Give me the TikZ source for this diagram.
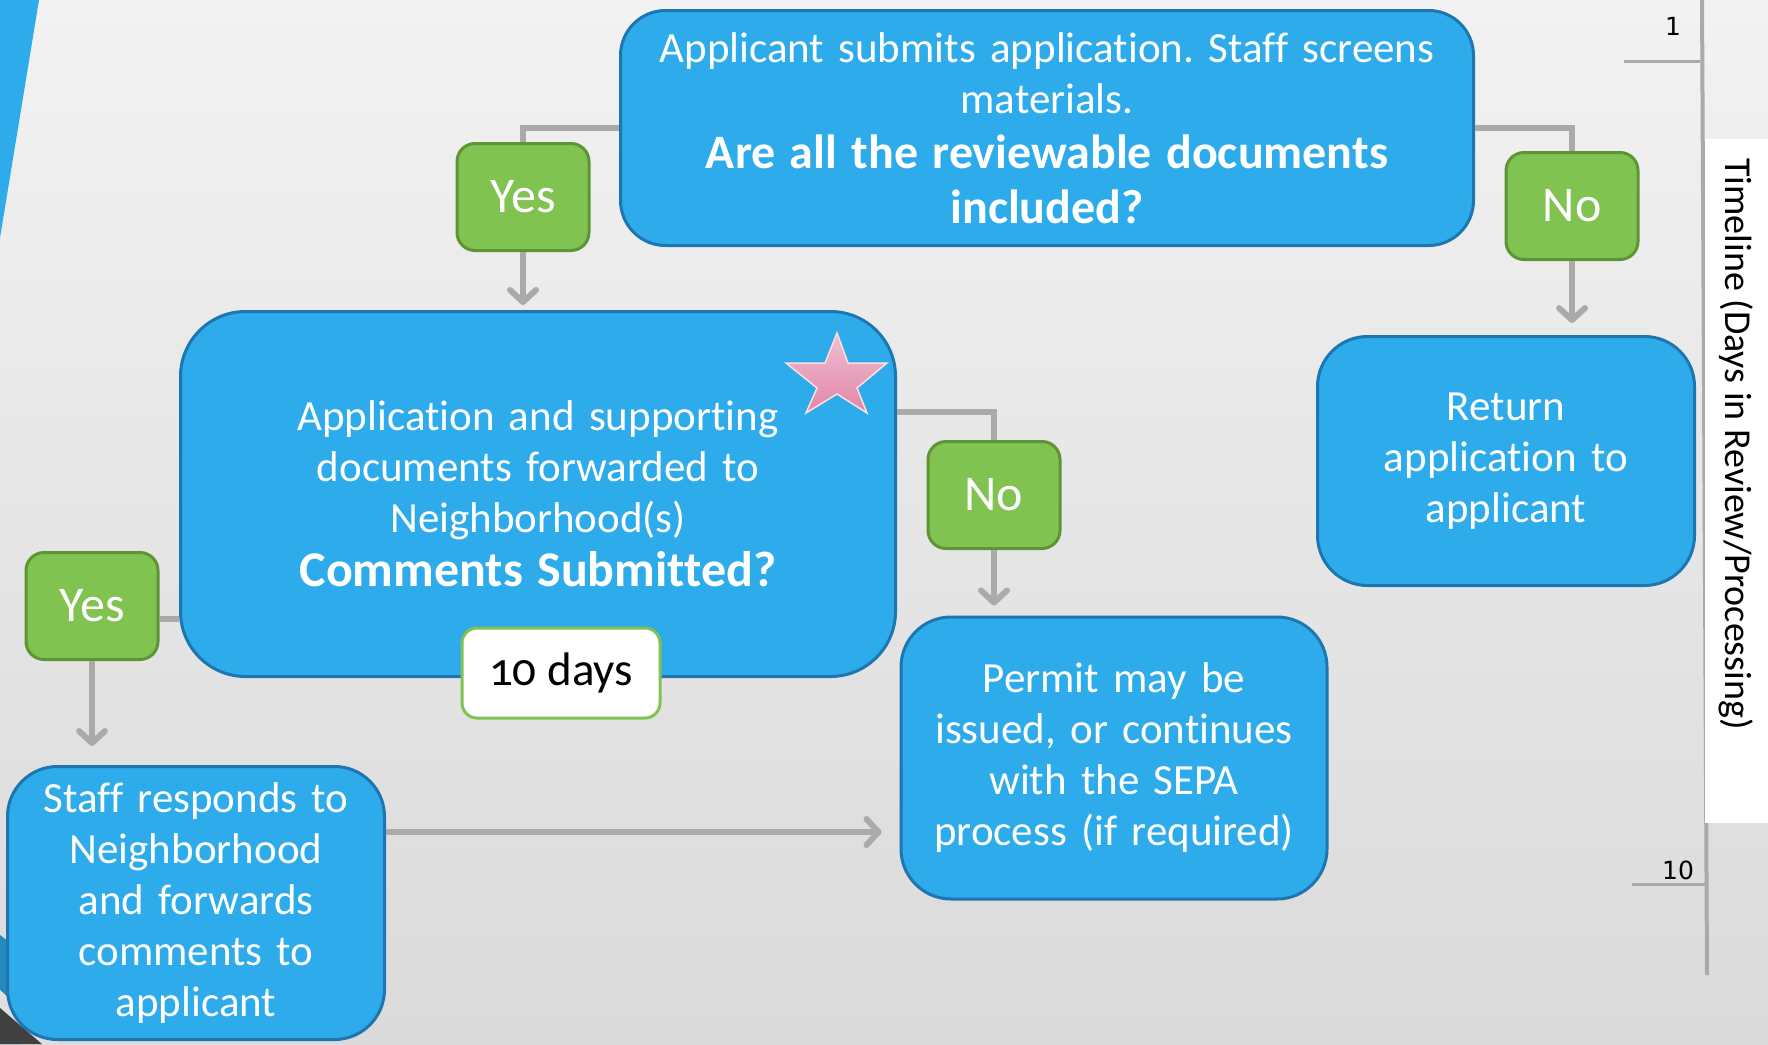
\documentclass[tikz,border=0pt]{standalone}
\usepackage{fontspec}
\setmainfont{Carlito}[Ligatures=NoCommon]
\newfontfamily\tickfont{DejaVu Sans}
\usetikzlibrary{arrows.meta}
\frenchspacing

\definecolor{boxblue}{RGB}{46,171,234}
\definecolor{boxedge}{RGB}{30,118,176}
\definecolor{yesgreen}{RGB}{128,195,80}
\definecolor{greenedge}{RGB}{94,148,54}
\definecolor{conngray}{RGB}{170,170,170}
\definecolor{bgtop}{RGB}{242,242,242}
\definecolor{bgbot}{RGB}{218,218,218}
\definecolor{starlight}{RGB}{240,190,210}
\definecolor{stardark}{RGB}{224,134,166}
\definecolor{cornergray}{RGB}{64,64,64}

\begin{document}
\begin{tikzpicture}[x=1pt, y=-1pt,
  bluebox/.style={draw=boxedge, fill=boxblue, line width=3pt, text=white, align=center, inner sep=0pt, font=\fontsize{43}{51}\selectfont},
  greenbox/.style={draw=greenedge, fill=yesgreen, line width=3pt, rounded corners=18pt, minimum width=132pt, minimum height=107pt, inner sep=0pt, text=white, font=\fontsize{50}{56}\selectfont},
  daysbox/.style={draw=yesgreen, fill=white, line width=3pt, rounded corners=15pt, minimum width=198pt, minimum height=90pt, inner sep=0pt, font=\fontsize{47}{52}\selectfont\addfontfeatures{Numbers=OldStyle}},
  conn/.style={draw=conngray, line width=6pt},
  arr/.style={conn, -{Straight Barb[length=12pt,width=26pt,round]}},
  tick/.style={draw=conngray, line width=3pt}
]
\useasboundingbox (0,0) rectangle (1768,1044);
\shade[top color=bgtop, bottom color=bgbot] (0,0) rectangle (1768,1044);
\fill[boxblue] (0,0) -- (39,0) -- (0,238) -- cycle;
\fill[boxblue!80!black] (0,935) -- (20,950) -- (20,1044) -- (0,1044) -- cycle;
\fill[gray!25] (0,990) -- (60,1044) -- (0,1044) -- cycle;
\fill[cornergray] (0,1008) -- (42,1044) -- (0,1044) -- cycle;

% timeline
\draw[conngray, line width=4pt] (1702,0) -- (1707,975);
\fill[white] (1705,139) rectangle (1768,823);
\draw[tick] (1624,61) -- (1700,61);
\draw[tick] (1632,884) -- (1706,884);
\node[font=\tickfont\fontsize{25}{27}\selectfont] (day1) at (1673,26) {1};
\node[font=\tickfont\fontsize{25}{27}\selectfont] (day10) at (1678,870) {10};
\node[rotate=-90, font=\fontsize{38}{42}\selectfont] (timeline) at (1736,444) {Timeline (Days in Review/Processing)};

\node[bluebox, minimum width=853pt, minimum height=235pt, rounded corners=45pt, text width=840pt] (check) at (1047,128)
  {Applicant submits application. Staff screens\\ materials.\par
   {\fontsize{48}{55}\selectfont\bfseries Are all the reviewable documents\\ included?\par}};
\node[bluebox, minimum width=715pt, minimum height=365pt, rounded corners=65pt, text width=690pt] (fwd) at (538,494)
  {Application and supporting\\ documents forwarded to\\ Neighborhood(s)\par
   {\fontsize{50}{54}\selectfont\bfseries Comments Submitted?\par}};
\node[bluebox, minimum width=377pt, minimum height=249pt, rounded corners=50pt, text width=360pt] (ret) at (1506,461)
  {Return\\ application to\\ applicant};
\node[bluebox, minimum width=426pt, minimum height=282pt, rounded corners=50pt, text width=410pt] (permit) at (1114,758)
  {Permit may be\\ issued, or continues\\ with the SEPA\\ process (if required)};
\node[bluebox, minimum width=377pt, minimum height=273pt, rounded corners=50pt, text width=360pt] (staff) at (196,903)
  {Staff responds to\\ Neighborhood\\ and forwards\\ comments to\\ applicant};

\shade[top color=starlight, bottom color=stardark, draw=pink!50!white, line width=1.5pt]
  (837,333) -- (848,363) -- (887,363) -- (857,388) -- (867,413) -- (837,394)
  -- (806,413) -- (817,388) -- (786,363) -- (825,363) -- cycle;

\node[greenbox] (yes1) at (523,197) {Yes};
\node[greenbox] (no1) at (1572,206) {No};
\node[greenbox] (no2) at (994,495) {No};
\node[greenbox] (yes2) at (92,606) {Yes};
\node[daysbox] (days) at (561,673) {10 days};

\draw[conn] (check.west) -| (yes1.north);
\draw[arr, shorten >=5pt] (yes1.south) -- (yes1.south |- fwd.north);
\draw[conn] (check.east) -| (no1.north);
\draw[arr, shorten >=12pt] (no1.south) -- (no1.south |- ret.north);
\draw[conn] ([yshift=82pt]fwd.east) -| (no2.north);
\draw[arr, shorten >=10pt] (no2.south) -- (no2.south |- permit.north);
\draw[conn] ([yshift=-125pt]fwd.west) -- ([yshift=-125pt]fwd.west -| yes2.east);
\draw[arr, shorten >=19pt] (yes2.south) -- (yes2.south |- staff.north);
\draw[arr, shorten >=18pt] ([yshift=71pt]staff.east) -- ([yshift=71pt]staff.east -| permit.west);

\end{tikzpicture}
\end{document}
